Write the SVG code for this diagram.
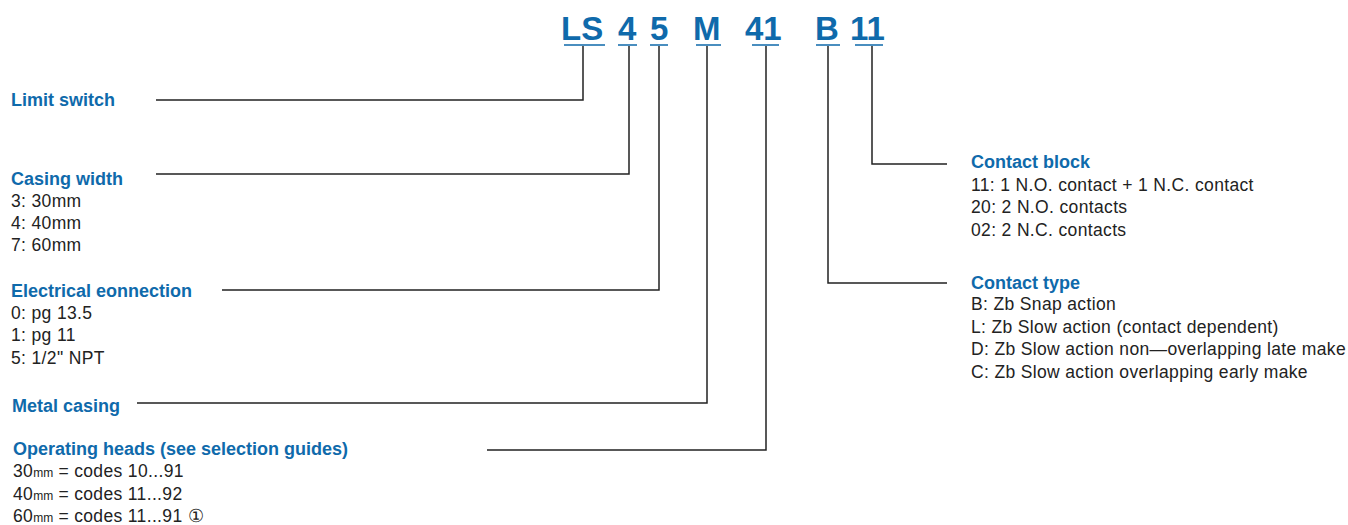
<svg xmlns="http://www.w3.org/2000/svg" width="1348" height="525" viewBox="0 0 1348 525">
<style>
.code{font-family:"Liberation Sans",Arial,sans-serif;font-weight:bold;font-size:33px;fill:#0f6aab}
.h{font-family:"Liberation Sans",Arial,sans-serif;font-weight:bold;font-size:18px;fill:#0f6aab}
.t{font-family:"Liberation Sans",Arial,sans-serif;font-size:17.5px;letter-spacing:0.35px;fill:#222}
.s{font-size:12px;letter-spacing:0}
.ul{stroke:#0f6aab;stroke-width:1.5;fill:none}
.c{stroke:#222;stroke-width:1.5;fill:none}
</style>
<rect width="1348" height="525" fill="#fff"/>
<g id="code">
<text class="code" x="561" y="40">LS</text>
<text class="code" x="618" y="40">4</text>
<text class="code" x="650" y="40">5</text>
<text class="code" x="693" y="40">M</text>
<text class="code" x="745" y="40">41</text>
<text class="code" x="815" y="40">B</text>
<text class="code" x="850" y="40">11</text>
<path class="ul" d="M564 45H605M618 45H637M650 45H668M696 45H721M752 45H779M816 45H840M855 45H883"/>
</g>
<g id="connectors">
<path class="c" d="M583 46V100H156"/>
<path class="c" d="M629 46V174H156"/>
<path class="c" d="M659 46V290H222"/>
<path class="c" d="M707 46V403H137"/>
<path class="c" d="M766 46V450H487"/>
<path class="c" d="M828 46V283H947"/>
<path class="c" d="M872 46V164H947"/>
</g>
<g id="limit-switch"><text class="h" x="11" y="106">Limit switch</text></g>
<g id="casing-width">
<text class="h" x="11" y="185">Casing width</text>
<text class="t" x="11" y="207">3: 30mm</text>
<text class="t" x="11" y="229">4: 40mm</text>
<text class="t" x="11" y="251">7: 60mm</text>
</g>
<g id="electrical-connection">
<text class="h" x="11" y="297">Electrical eonnection</text>
<text class="t" x="11" y="319">0: pg 13.5</text>
<text class="t" x="11" y="341">1: pg 11</text>
<text class="t" x="11" y="364">5: 1/2" NPT</text>
</g>
<g id="metal-casing"><text class="h" x="12" y="412">Metal casing</text></g>
<g id="operating-heads">
<text class="h" x="13" y="455">Operating heads (see selection guides)</text>
<text class="t" x="13" y="477">30<tspan class="s">mm</tspan> = codes 10...91</text>
<text class="t" x="13" y="500">40<tspan class="s">mm</tspan> = codes 11...92</text>
<text class="t" x="13" y="522">60<tspan class="s">mm</tspan> = codes 11...91 ①</text>
</g>
<g id="contact-block">
<text class="h" x="971" y="168">Contact block</text>
<text class="t" x="971" y="191">11: 1 N.O. contact + 1 N.C. contact</text>
<text class="t" x="971" y="213">20: 2 N.O. contacts</text>
<text class="t" x="971" y="236">02: 2 N.C. contacts</text>
</g>
<g id="contact-type">
<text class="h" x="971" y="289">Contact type</text>
<text class="t" x="971" y="310">B: Zb Snap action</text>
<text class="t" x="971" y="333">L: Zb Slow action (contact dependent)</text>
<text class="t" x="971" y="355">D: Zb Slow action non—overlapping late make</text>
<text class="t" x="971" y="378">C: Zb Slow action overlapping early make</text>
</g>
</svg>
